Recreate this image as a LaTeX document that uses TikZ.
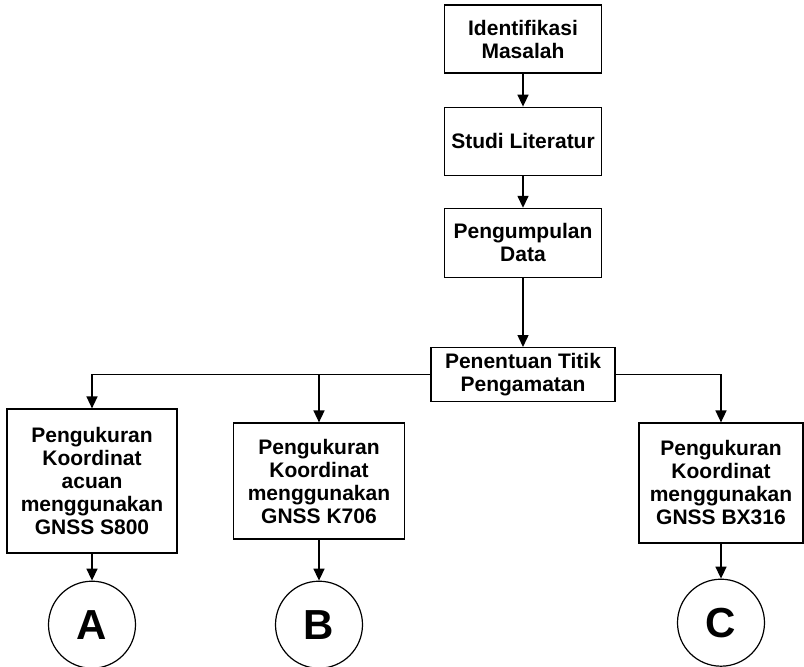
\documentclass[tikz,border=0pt]{standalone}
\usepackage{fontspec}
\setmainfont{Liberation Sans}
\usepackage{tikz}
\usetikzlibrary{positioning,calc}
\usetikzlibrary{arrows.meta,shapes}
\tikzstyle{block} = [rectangle,draw=black,line width=1.2pt,align=center,fill=white,inner sep=2pt,font=\bfseries\fontsize{21}{23}\selectfont]
\tikzstyle{conn} = [circle,draw=black,line width=1.2pt,minimum size=87pt,inner sep=0pt,font=\bfseries\fontsize{42}{44}\selectfont]
\tikzstyle{line} = [line width=1.5pt,-{Triangle[length=12pt,width=11pt]}]

\begin{document}
\begin{tikzpicture}
        \useasboundingbox (0,0) rectangle (804pt,-667pt);
        \path[line] node[block,minimum width=157pt,minimum height=68pt] (idm) at (523pt,-39pt) {Identifikasi\\Masalah};
        \path[line] node[block,minimum width=157pt,minimum height=68pt,below=33pt of idm] (studi) {Studi Literatur}
        (idm) edge (studi);
        \path[line] node[block,minimum width=157pt,minimum height=69pt,below=32pt of studi] (data) {Pengumpulan\\Data}
        (studi) edge (data);
        \path[line] node[block,minimum width=184pt,minimum height=54pt,below=69pt of data] (titik) {Penentuan Titik\\Pengamatan}
        (data) edge (titik);
        % tiga pengukuran
        \node[block,minimum width=170pt,minimum height=144pt] (ukura) at (92pt,-481pt) {Pengukuran\\Koordinat\\acuan\\menggunakan\\GNSS S800};
        \node[block,minimum width=171pt,minimum height=116pt] (ukurb) at (319pt,-481pt) {Pengukuran\\Koordinat\\menggunakan\\GNSS K706};
        \node[block,minimum width=164pt,minimum height=120pt] (ukurc) at (721pt,-483pt) {Pengukuran\\Koordinat\\menggunakan\\GNSS BX316};
        \draw[line] (titik.west) -| (ukura.north);
        \draw[line] (titik.west -| ukurb.north) -- (ukurb.north);
        \draw[line] (titik.east) -| (ukurc.north);
        % penghubung
        \path[line] node[conn,below=27pt of ukura] (ca) {A}
        (ukura) edge (ca);
        \path[line] node[conn,below=41pt of ukurb] (cb) {B}
        (ukurb) edge (cb);
        \path[line] node[conn,below=35pt of ukurc] (cc) {C}
        (ukurc) edge (cc);
    \end{tikzpicture}
\end{document}
